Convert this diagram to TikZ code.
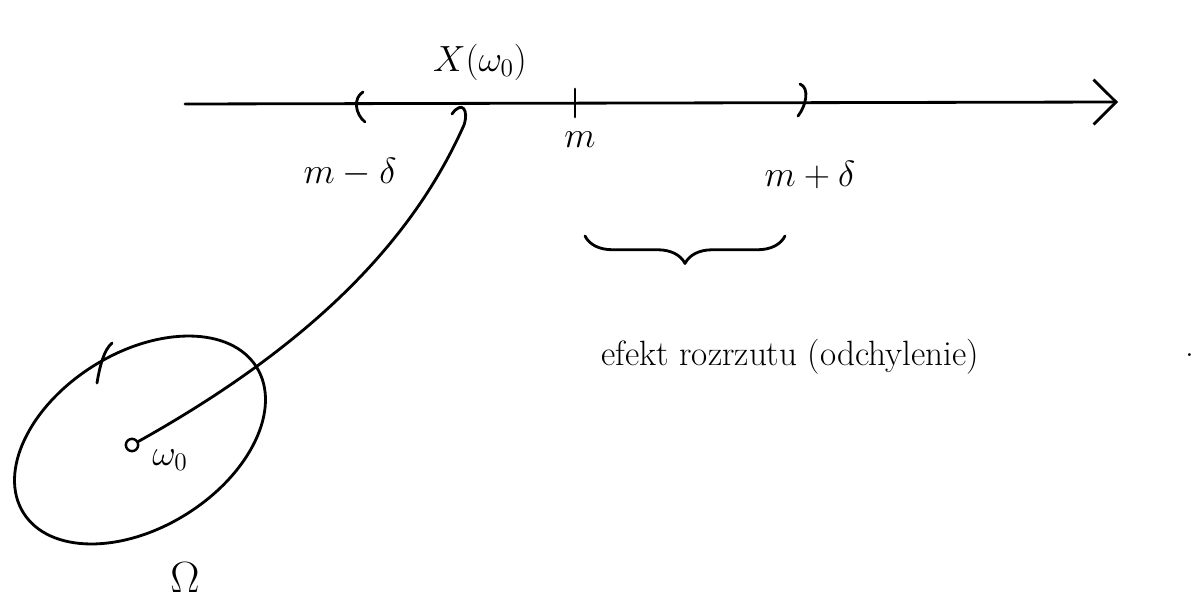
\documentclass[tikz,border=0pt]{standalone}
\usepackage{amsmath,amssymb}
\usetikzlibrary{arrows.meta,positioning,decorations.pathreplacing}

\begin{document}
\begin{tikzpicture}[x=0.02cm, y=-0.02cm, line width=1.6pt, line cap=round, line join=round]
\useasboundingbox (0,0) rectangle (1204,611);
\tikzset{
  lbl/.style={inner sep=1pt, font=\fontsize{21}{24}\selectfont},
  note/.style={inner sep=1pt, font=\fontsize{20}{24}\selectfont},
  pt/.style={circle, draw, inner sep=0pt, minimum size=7pt, line width=1.4pt}
}
% axis
\coordinate (a0) at (185,104);
\coordinate (a1) at (1118,102);
\draw[-{Straight Barb[length=4.5mm,width=9mm,line width=1.6pt]}] (a0) -- (a1);
% interval m-d, m, m+d
\coordinate (lo) at (360,104);
\coordinate (mid) at (575,103);
\coordinate (hi) at (804,102);
\draw (lo) ++(3,-12) .. controls +(-10,6) and +(-10,-8) .. ++(2,30);
\draw (mid) ++(0,-14) -- ++(0,28);
\draw (hi) ++(-4,-18) .. controls +(10,4) and +(8,-10) .. ++(-2,32);
\node[lbl] (lmd) at (350,172) {$m-\delta$};
\node[lbl] (lm) at (580,140) {$m$};
\node[lbl] (lpd) at (810,175) {$m+\delta$};
% sample space
\coordinate (omc) at (140,440);
\draw[rotate around={32:(omc)}] (omc) ellipse [x radius=2.75cm, y radius=1.75cm];
\draw (97,383) .. controls (100,365) and (104,350) .. (112,343);
\node[lbl, font=\fontsize{26}{28}\selectfont] (Om) at (185,578) {$\Omega$};
\node[pt] (w0) at (132,445) {};
\node[lbl] (w0l) at (170,460) {$\omega_0$};
% value X(w0)
\coordinate (xw) at (452,114);
\node[lbl] (xl) at (480,62) {$X(\omega_0)$};
\draw (w0) .. controls (320,340) and (415,235) .. (464,125) .. controls (469,110) and (462,100) .. (xw);
% spread
\coordinate (b0) at (585,236);
\coordinate (b1) at (785,236);
\draw[decorate, decoration={brace, mirror, amplitude=0.55cm}] (b0) -- (b1);
\node[note, anchor=west] (eff) at (598,357) {efekt rozrzutu (odchylenie)};
\node[note] (dot) at (1190,355) {.};
\end{tikzpicture}
\end{document}
